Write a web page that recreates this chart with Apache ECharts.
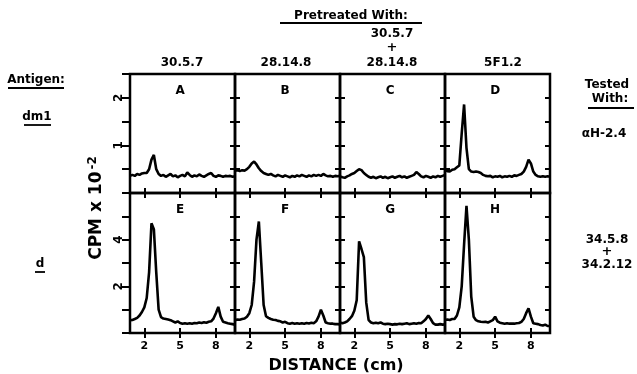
<!DOCTYPE html>
<html>
<head>
<meta charset="utf-8">
<script src="https://cdn.jsdelivr.net/npm/echarts@6/dist/echarts.min.js"></script>
<style>
  html, body { margin: 0; padding: 0; background: #fff; }
  #chart { width: 637px; height: 374px; }
</style>
</head>
<body>
<div id="chart"></div>
<script>
// distance along the gel (cm), shared by every panel
const distance = [0.8, 1.0, 1.2, 1.4, 1.6, 1.8, 2.0, 2.2, 2.4, 2.6, 2.8, 3.0, 3.2, 3.4, 3.6, 3.8, 4.0, 4.2, 4.4, 4.6, 4.8, 5.0, 5.2, 5.4, 5.6, 5.8, 6.0, 6.2, 6.4, 6.6, 6.8, 7.0, 7.2, 7.4, 7.6, 7.8, 8.0, 8.2, 8.4, 8.6, 8.8, 9.0, 9.2, 9.4, 9.6];

// CPM x 10^-2, top row (dm1 / aH-2.4)
const cpmA = [0.36, 0.38, 0.36, 0.40, 0.38, 0.41, 0.42, 0.42, 0.50, 0.70, 0.80, 0.50, 0.40, 0.36, 0.38, 0.34, 0.37, 0.40, 0.35, 0.37, 0.33, 0.36, 0.38, 0.35, 0.43, 0.38, 0.34, 0.37, 0.35, 0.39, 0.36, 0.34, 0.37, 0.40, 0.42, 0.36, 0.34, 0.37, 0.36, 0.34, 0.36, 0.35, 0.36, 0.34, 0.35];
const cpmB = [0.47, 0.48, 0.46, 0.48, 0.47, 0.50, 0.55, 0.62, 0.66, 0.60, 0.52, 0.46, 0.42, 0.40, 0.38, 0.40, 0.37, 0.35, 0.38, 0.36, 0.34, 0.37, 0.35, 0.33, 0.36, 0.34, 0.37, 0.35, 0.38, 0.36, 0.34, 0.37, 0.35, 0.38, 0.36, 0.38, 0.36, 0.40, 0.37, 0.35, 0.36, 0.34, 0.36, 0.35, 0.36];
const cpmC = [0.35, 0.33, 0.32, 0.35, 0.37, 0.40, 0.42, 0.46, 0.50, 0.48, 0.42, 0.38, 0.34, 0.32, 0.34, 0.31, 0.33, 0.35, 0.32, 0.34, 0.31, 0.33, 0.35, 0.32, 0.34, 0.36, 0.33, 0.35, 0.32, 0.34, 0.36, 0.38, 0.44, 0.40, 0.35, 0.33, 0.36, 0.34, 0.32, 0.35, 0.33, 0.36, 0.34, 0.36, 0.38];
const cpmD = [0.49, 0.46, 0.45, 0.49, 0.50, 0.54, 0.58, 1.25, 1.86, 0.95, 0.50, 0.45, 0.44, 0.45, 0.44, 0.42, 0.38, 0.36, 0.35, 0.36, 0.33, 0.35, 0.34, 0.36, 0.33, 0.35, 0.34, 0.36, 0.34, 0.37, 0.36, 0.38, 0.40, 0.45, 0.55, 0.70, 0.62, 0.45, 0.38, 0.35, 0.34, 0.35, 0.34, 0.35, 0.34];

// bottom row (d / 34.5.8 + 34.2.12)
const cpmE = [0.55, 0.56, 0.60, 0.65, 0.75, 0.90, 1.10, 1.50, 2.60, 4.70, 4.45, 2.60, 1.00, 0.68, 0.62, 0.60, 0.58, 0.55, 0.50, 0.45, 0.50, 0.43, 0.40, 0.42, 0.40, 0.42, 0.40, 0.43, 0.42, 0.45, 0.43, 0.46, 0.44, 0.48, 0.50, 0.62, 0.85, 1.12, 0.70, 0.48, 0.45, 0.42, 0.40, 0.38, 0.36];
const cpmF = [0.55, 0.58, 0.57, 0.60, 0.62, 0.70, 0.85, 1.20, 2.20, 4.00, 4.78, 3.00, 1.20, 0.72, 0.65, 0.60, 0.57, 0.56, 0.52, 0.50, 0.45, 0.48, 0.42, 0.40, 0.43, 0.40, 0.42, 0.40, 0.42, 0.40, 0.43, 0.41, 0.44, 0.42, 0.50, 0.70, 1.00, 0.75, 0.45, 0.42, 0.40, 0.40, 0.38, 0.38, 0.37];
const cpmG = [0.45, 0.42, 0.45, 0.50, 0.60, 0.72, 0.95, 1.40, 3.93, 3.60, 3.25, 1.30, 0.55, 0.45, 0.42, 0.44, 0.42, 0.45, 0.40, 0.38, 0.40, 0.38, 0.36, 0.38, 0.37, 0.40, 0.38, 0.40, 0.42, 0.38, 0.40, 0.42, 0.40, 0.43, 0.42, 0.50, 0.60, 0.75, 0.60, 0.42, 0.36, 0.36, 0.38, 0.36, 0.37];
const cpmH = [0.56, 0.58, 0.56, 0.60, 0.60, 0.75, 1.10, 2.00, 3.80, 5.45, 4.00, 1.56, 0.70, 0.55, 0.50, 0.48, 0.47, 0.48, 0.45, 0.50, 0.55, 0.70, 0.50, 0.44, 0.42, 0.40, 0.42, 0.40, 0.41, 0.40, 0.42, 0.43, 0.48, 0.60, 0.85, 1.06, 0.70, 0.42, 0.40, 0.38, 0.34, 0.32, 0.36, 0.30, 0.30];

const panelSeries = [cpmA, cpmB, cpmC, cpmD, cpmE, cpmF, cpmG, cpmH];
const panelLetters = ['A', 'B', 'C', 'D', 'E', 'F', 'G', 'H'];
const pretreatedWith = ['30.5.7', '28.14.8', '28.14.8', '5F1.2'];
const distanceTicks = [2, 5, 8];
const topRowLabels = [1, 2];
const bottomRowLabels = [2, 4];

// layout
const colLeft = [130, 235, 340, 445];
const colW = 105;
const rowTop = [74, 193];
const rowH = [119, 140];
const rowMax = [2.5, 6];
const rowStep = [0.5, 1];
const xMin = 0.8, xMax = 9.6;
const FONT = '"DejaVu Sans", sans-serif';

const grids = [], xAxes = [], yAxes = [], series = [], graphics = [];

panelSeries.forEach((vals, i) => {
  const r = Math.floor(i / 4), c = i % 4;
  grids.push({
    left: colLeft[c], top: rowTop[r], width: colW, height: rowH[r],
    show: true, borderColor: '#000', borderWidth: 2.5, backgroundColor: 'transparent'
  });
  const tick = (inside, len) => ({
    show: true, inside: inside, length: len,
    lineStyle: { color: '#000', width: 2 }
  });
  // bottom + top distance axes
  xAxes.push({
    gridIndex: i, type: 'value', min: xMin, max: xMax, position: 'bottom',
    axisLine: { show: false }, splitLine: { show: false },
    axisTick: Object.assign(tick(true, 5), { customValues: distanceTicks }),
    axisLabel: {
      show: r === 1, customValues: distanceTicks, margin: 8,
      color: '#000', fontWeight: 'bold', fontSize: 11, fontFamily: FONT
    }
  });
  xAxes.push({
    gridIndex: i, type: 'value', min: xMin, max: xMax, position: 'top',
    axisLine: { show: false }, splitLine: { show: false },
    axisTick: Object.assign(tick(true, 5), { customValues: distanceTicks }),
    axisLabel: { show: false }
  });
  // left + right cpm axes
  yAxes.push({
    gridIndex: i, type: 'value', min: 0, max: rowMax[r], interval: rowStep[r], position: 'left',
    axisLine: { show: false }, splitLine: { show: false },
    axisTick: c === 0 ? tick(false, 8) : tick(true, 5),
    axisLabel: {
      show: c === 0, customValues: r === 0 ? topRowLabels : bottomRowLabels,
      rotate: 90, margin: 5, color: '#000', fontWeight: 'bold', fontSize: 12, fontFamily: FONT
    }
  });
  yAxes.push({
    gridIndex: i, type: 'value', min: 0, max: rowMax[r], interval: rowStep[r], position: 'right',
    axisLine: { show: false }, splitLine: { show: false },
    axisTick: tick(true, 5), axisLabel: { show: false }
  });
  series.push({
    type: 'line', xAxisIndex: 2 * i, yAxisIndex: 2 * i,
    data: distance.map((d, k) => [d, vals[k]]),
    showSymbol: false, smooth: false,
    lineStyle: { color: '#000', width: 2.6 },
    clip: true
  });
  // panel letter, under the middle tick
  graphics.push({
    type: 'text', x: colLeft[c] + (5 - xMin) / (xMax - xMin) * colW, y: rowTop[r] + 17,
    style: { text: panelLetters[i], font: 'bold 12px ' + FONT, fill: '#000', textAlign: 'center', textVerticalAlign: 'middle' }
  });
});

const txt = (text, x, y, size, extra) => Object.assign({
  type: 'text', x: x, y: y,
  style: { text: text, font: 'bold ' + size + 'px ' + FONT, fill: '#000', textAlign: 'center', textVerticalAlign: 'middle' }
}, extra || {});
const rule = (x1, x2, y) => ({
  type: 'line', shape: { x1: x1, y1: y, x2: x2, y2: y }, style: { stroke: '#000', lineWidth: 1.8 }
});

// column headers
const headX = [182, 286, 392, 503];
pretreatedWith.forEach((t, c) => graphics.push(txt(t, headX[c], 63, 12)));
graphics.push(txt('Pretreated With:', 351, 16, 12), rule(280, 422, 23));
graphics.push(txt('30.5.7', 392, 34, 12), txt('+', 392, 48, 13));

// left labels
graphics.push(txt('Antigen:', 36, 80, 12), rule(8, 64, 88));
graphics.push(txt('dm1', 37, 117, 12), rule(24, 51, 125));
graphics.push(txt('d', 40, 264, 12), rule(35, 45, 272));

// right labels
graphics.push(txt('Tested', 607, 85, 12), txt('With:', 610, 99, 12), rule(588, 634, 108));
graphics.push(txt('αH-2.4', 604, 134, 12));
graphics.push(txt('34.5.8', 607, 240, 12), txt('+', 607, 252, 13), txt('34.2.12', 607, 265, 12));

// axis titles
graphics.push(txt('DISTANCE (cm)', 336, 366, 16));
graphics.push({
  type: 'text', x: 97, y: 208, rotation: Math.PI / 2,
  style: {
    text: 'CPM x 10{sup|-2}', font: 'bold 17px ' + FONT, fill: '#000',
    textAlign: 'center', textVerticalAlign: 'middle',
    rich: { sup: { fontSize: 12, fontWeight: 'bold', fontFamily: FONT, verticalAlign: 'top', padding: [0, 0, 9, 2] } }
  }
});

const chart = echarts.init(document.getElementById('chart'));
chart.setOption({
  animation: false,
  backgroundColor: '#fff',
  grid: grids,
  xAxis: xAxes,
  yAxis: yAxes,
  series: series,
  graphic: graphics
});
</script>
</body>
</html>
